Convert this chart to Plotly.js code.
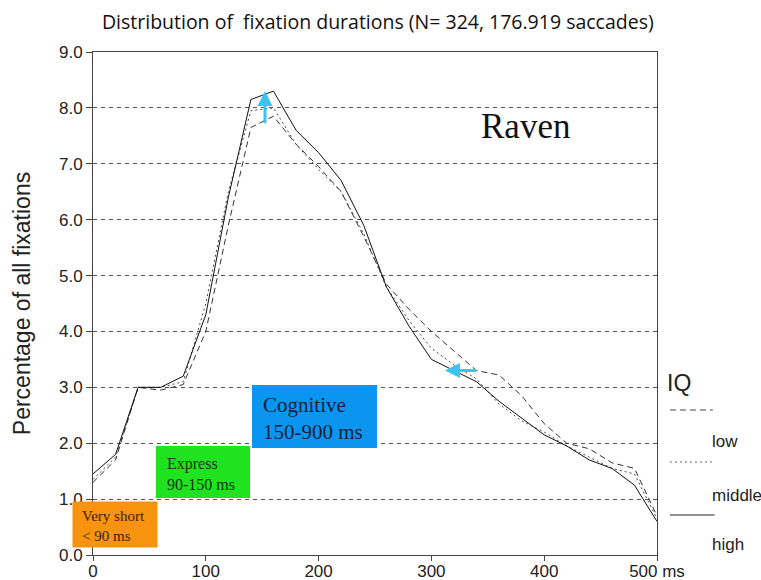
<!DOCTYPE html>
<html><head><meta charset="utf-8">
<script src="https://cdn.plot.ly/plotly-3.0.1.min.js"></script>
<style>html,body{margin:0;padding:0;background:#fff}#chart{width:761px;height:580px}</style>
</head><body><div id="chart"></div>
<script>
// Fixation duration bins (ms)
const durations = [0,20,40,60,80,100,120,140,160,180,200,220,240,260,280,300,320,340,360,380,400,420,440,460,480,500];
// Percentage of all fixations per IQ group
const lowIQ    = [1.30,1.70,3.00,2.95,3.05,4.00,5.90,7.65,7.85,7.35,6.95,6.50,5.70,4.85,4.40,4.00,3.65,3.30,3.22,2.85,2.35,2.00,1.90,1.65,1.55,0.70];
const middleIQ = [1.35,1.75,3.00,3.00,3.10,4.50,6.50,7.95,8.00,7.35,6.90,6.50,5.75,4.80,4.20,3.70,3.40,3.15,2.70,2.40,2.20,1.95,1.75,1.55,1.45,0.65];
const highIQ   = [1.45,1.80,3.00,3.00,3.20,4.30,6.40,8.15,8.30,7.60,7.20,6.70,5.90,4.80,4.10,3.50,3.30,3.10,2.75,2.45,2.15,1.95,1.70,1.55,1.25,0.60];
const yTicks = [0,1,2,3,4,5,6,7,8,9];
const yTickText = ['0.0','1.0','2.0','3.0','4.0','5.0','6.0','7.0','8.0','9.0'];
const xTicks = [0,100,200,300,400,500];
const xTickText = ['0','100','200','300','400','500 ms'];
const seriesNames = ['low','middle','high'];

const traces = [
  {x: durations, y: lowIQ, name: seriesNames[0], mode: 'lines', line: {color: '#333', width: 1, dash: '6px,4px'}},
  {x: durations, y: middleIQ, name: seriesNames[1], mode: 'lines', line: {color: '#444', width: 1, dash: '2px,3px'}},
  {x: durations, y: highIQ, name: seriesNames[2], mode: 'lines', line: {color: '#111', width: 1}}
];

const serif = 'Liberation Serif, Times New Roman, serif';
const sans = 'Liberation Sans, Arial, sans-serif';

const layout = {
  width: 761, height: 580,
  margin: {l: 93, r: 104, t: 52, b: 25},
  paper_bgcolor: '#fff', plot_bgcolor: '#fff',
  showlegend: false,
  title: {text: 'Distribution of  fixation durations (N= 324, 176.919 saccades)',
          font: {family: 'Open Sans, sans-serif', size: 19.5, color: '#111'},
          xref: 'paper', x: 0.505, xanchor: 'center', yref: 'container', y: 0.962, yanchor: 'middle'},
  xaxis: {range: [0, 500], tickvals: xTicks, ticktext: xTickText, ticks: 'outside', ticklen: 5,
          tickcolor: '#444', showline: true, linecolor: '#444', linewidth: 1, mirror: true,
          showgrid: false, zeroline: false, fixedrange: true, ticklabelstandoff: -4,
          tickfont: {family: sans, size: 17, color: '#222'}},
  yaxis: {range: [0, 9], tickvals: yTicks, ticktext: yTickText, ticks: 'outside', ticklen: 6,
          tickcolor: '#444', showline: true, linecolor: '#444', linewidth: 1, mirror: true,
          showgrid: true, gridcolor: '#555', gridwidth: 1, griddash: '4px,4px', zeroline: false,
          tickfont: {family: sans, size: 17, color: '#222'},
          title: {text: 'Percentage of all fixations', font: {family: sans, size: 23, color: '#222'}, standoff: 21}},
  shapes: [
    {type: 'rect', xref: 'paper', yref: 'paper', x0: 0.1117, x1: 0.2784, y0: 0.1133, y1: 0.2167, fillcolor: '#1EE31E', line: {width: 0}, layer: 'above'},
    {type: 'rect', xref: 'paper', yref: 'paper', x0: 0.2819, x1: 0.5035, y0: 0.2127, y1: 0.338, fillcolor: '#0A96F0', line: {width: 0}, layer: 'above'},
    {type: 'line', xref: 'paper', yref: 'paper', x0: 1.023, x1: 1.099, y0: 0.2883, y1: 0.2883, line: {color: '#444', width: 1, dash: '6px,4px'}},
    {type: 'line', xref: 'paper', yref: 'paper', x0: 1.023, x1: 1.099, y0: 0.1849, y1: 0.1849, line: {color: '#666', width: 1, dash: '2px,3px'}},
    {type: 'line', xref: 'paper', yref: 'paper', x0: 1.023, x1: 1.102, y0: 0.0795, y1: 0.0795, line: {color: '#222', width: 1}}
  ],
  annotations: [
    {xref: 'paper', yref: 'paper', x: -0.0372, y: 0.0139, xanchor: 'left', yanchor: 'bottom', text: ' ', width: 84, height: 45, borderpad: 0, bgcolor: '#F7930F', showarrow: false, font: {size: 10}},
    {xref: 'paper', yref: 'paper', x: 0.766, y: 0.851, xanchor: 'center', yanchor: 'middle', text: 'Raven', showarrow: false, font: {family: serif, size: 35, color: '#111'}},
    {xref: 'paper', yref: 'paper', x: 0.2979, y: 0.2714, xanchor: 'left', yanchor: 'middle', align: 'left', text: 'Cognitive<br>150-900 ms', showarrow: false, font: {family: serif, size: 21, color: '#14213a'}},
    {xref: 'paper', yref: 'paper', x: 0.1277, y: 0.162, xanchor: 'left', yanchor: 'middle', align: 'left', text: 'Express<br>90-150 ms', showarrow: false, font: {family: serif, size: 16, color: '#123312'}},
    {xref: 'paper', yref: 'paper', x: -0.023, y: 0.0577, xanchor: 'left', yanchor: 'middle', align: 'left', text: 'Very short<br>&lt; 90 ms', showarrow: false, font: {family: serif, size: 15, color: '#3a2208'}},
    {xref: 'paper', yref: 'paper', x: 1.0142, y: 0.342, xanchor: 'left', yanchor: 'middle', text: 'IQ', showarrow: false, font: {family: sans, size: 23, color: '#222'}},
    {xref: 'paper', yref: 'paper', x: 1.094, y: 0.2266, xanchor: 'left', yanchor: 'middle', text: seriesNames[0], showarrow: false, font: {family: sans, size: 17, color: '#222'}},
    {xref: 'paper', yref: 'paper', x: 1.094, y: 0.119, xanchor: 'left', yanchor: 'middle', text: seriesNames[1], showarrow: false, font: {family: sans, size: 17, color: '#222'}},
    {xref: 'paper', yref: 'paper', x: 1.094, y: 0.0199, xanchor: 'left', yanchor: 'middle', text: seriesNames[2], showarrow: false, font: {family: sans, size: 17, color: '#222'}},
    {x: 152.5, y: 8.3, ax: 152.5, ay: 7.7, axref: 'x', ayref: 'y', xref: 'x', yref: 'y', text: '', showarrow: true, arrowhead: 2, arrowsize: 1, arrowwidth: 3, arrowcolor: '#3CC3F0'},
    {x: 312, y: 3.3, ax: 341, ay: 3.3, axref: 'x', ayref: 'y', xref: 'x', yref: 'y', text: '', showarrow: true, arrowhead: 2, arrowsize: 1, arrowwidth: 3, arrowcolor: '#3CC3F0'}
  ]
};

Plotly.newPlot('chart', traces, layout, {staticPlot: true, displayModeBar: false});
</script>
</body></html>
